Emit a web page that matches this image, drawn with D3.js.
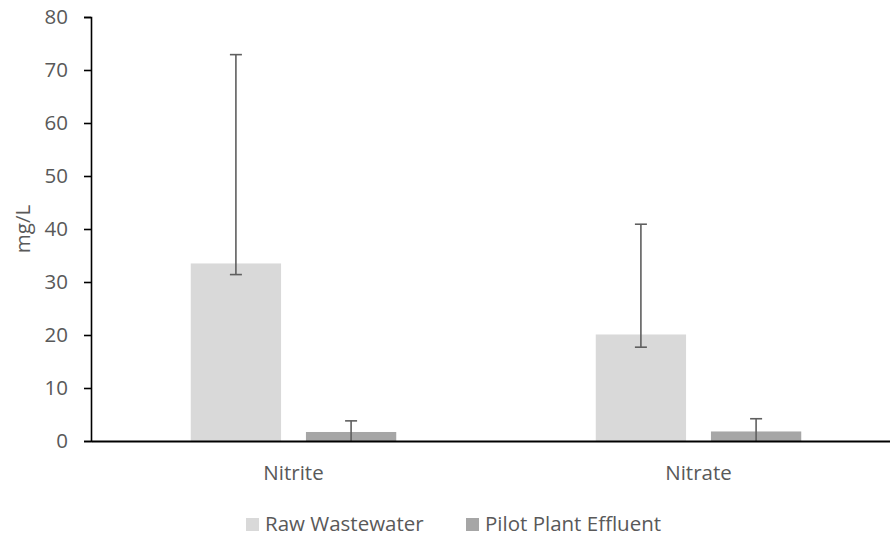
<!DOCTYPE html>
<html>
<head>
<meta charset="utf-8">
<script src="https://cdn.jsdelivr.net/npm/d3@7"></script>
<style>
  html, body { margin: 0; padding: 0; background: #fff; }
  svg text { font-family: "Open Sans", "Noto Sans", sans-serif; fill: #595959; }
</style>
</head>
<body>
<svg id="chart" width="890" height="536"></svg>
<script>
// Nitrogen species, mg/L
const categories = ["Nitrite", "Nitrate"];
const seriesNames = ["Raw Wastewater", "Pilot Plant Effluent"];
const rawValues = [33.5, 20.1];
const rawErrLow = [31.4, 17.7];
const rawErrHigh = [72.9, 40.9];
const pilotValues = [1.7, 1.8];
const pilotErrLow = [0, 0];
const pilotErrHigh = [3.8, 4.2];
const yTicks = [0, 10, 20, 30, 40, 50, 60, 70, 80];

const colors = ["#d9d9d9", "#a6a6a6"];
const fontSize = "20.5px";

const rows = categories.map((c, i) => ({
  category: c,
  bars: [
    { series: seriesNames[0], value: rawValues[i], lo: rawErrLow[i], hi: rawErrHigh[i] },
    { series: seriesNames[1], value: pilotValues[i], lo: pilotErrLow[i], hi: pilotErrHigh[i] }
  ]
}));

const svg = d3.select("#chart");
const plotLeft = 91, plotRight = 901, plotTop = 17, plotBottom = 441;

const x0 = d3.scaleBand().domain(categories).range([plotLeft, plotRight]).paddingInner(0).paddingOuter(0);
const x1 = d3.scaleBand().domain(seriesNames).range([0, x0.bandwidth()])
  .paddingInner(0.216).paddingOuter(0.866);
const y = d3.scaleLinear().domain([0, 80]).range([plotBottom, plotTop]);
const color = d3.scaleOrdinal().domain(seriesNames).range(colors);

// bars
const groups = svg.append("g").selectAll("g").data(rows).join("g")
  .attr("transform", d => `translate(${x0(d.category)},0)`);

groups.selectAll("rect").data(d => d.bars).join("rect")
  .attr("x", d => x1(d.series))
  .attr("width", x1.bandwidth())
  .attr("y", d => y(d.value))
  .attr("height", d => y(0) - y(d.value))
  .attr("fill", d => color(d.series));

// error bars
const err = groups.selectAll("g.err").data(d => d.bars).join("g").attr("class", "err")
  .attr("transform", d => `translate(${x1(d.series) + x1.bandwidth() / 2},0)`);
err.append("line")
  .attr("y1", d => y(d.lo)).attr("y2", d => y(d.hi))
  .attr("stroke", "#5f5f5f").attr("stroke-width", 1.6);
err.append("line")
  .attr("x1", -6).attr("x2", 6)
  .attr("y1", d => y(d.hi)).attr("y2", d => y(d.hi))
  .attr("stroke", "#5f5f5f").attr("stroke-width", 1.6);
err.filter(d => d.lo > 0).append("line")
  .attr("x1", -6).attr("x2", 6)
  .attr("y1", d => y(d.lo)).attr("y2", d => y(d.lo))
  .attr("stroke", "#5f5f5f").attr("stroke-width", 1.6);

// y axis
const yAxis = svg.append("g").attr("transform", `translate(${plotLeft},0)`)
  .call(d3.axisLeft(y).tickValues(yTicks).tickSize(7).tickPadding(16));
yAxis.select(".domain").attr("stroke", "#000").attr("stroke-width", 1.6);
yAxis.selectAll(".tick line").attr("stroke", "#000").attr("stroke-width", 1.6);
yAxis.selectAll(".tick text").style("font-size", fontSize).attr("fill", "#595959");

// x axis
const xAxis = svg.append("g").attr("transform", `translate(0,${plotBottom})`)
  .call(d3.axisBottom(x0).tickSize(0).tickPadding(24));
xAxis.select(".domain").attr("stroke", "#000").attr("stroke-width", 2);
xAxis.selectAll(".tick text").style("font-size", fontSize).attr("fill", "#595959");

// y title
svg.append("text")
  .attr("transform", `translate(30,${(plotTop + plotBottom) / 2}) rotate(-90)`)
  .attr("text-anchor", "middle")
  .style("font-size", fontSize)
  .text("mg/L");

// legend
const legendItems = [
  { name: seriesNames[0], x: 246 },
  { name: seriesNames[1], x: 466 }
];
const lg = svg.append("g").selectAll("g").data(legendItems).join("g")
  .attr("transform", d => `translate(${d.x},531)`);
lg.append("rect").attr("x", 0).attr("y", -13).attr("width", 13).attr("height", 13)
  .attr("fill", d => color(d.name));
lg.append("text").attr("x", 19)
  .style("font-size", fontSize)
  .text(d => d.name);
</script>
</body>
</html>
